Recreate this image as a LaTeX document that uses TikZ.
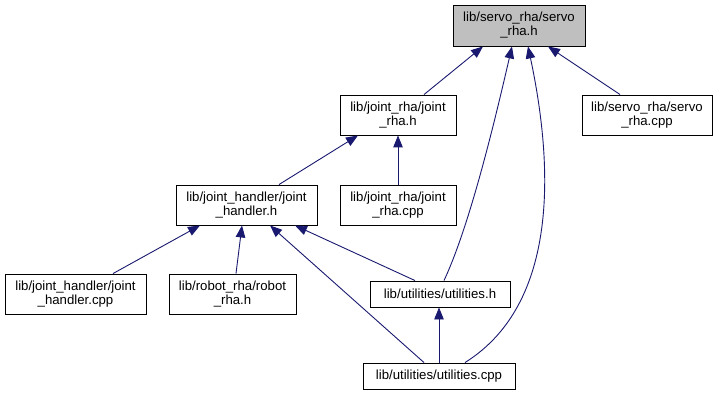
\documentclass[tikz,border=0pt]{standalone}
\usepackage{fontspec}
\setmainfont{Liberation Sans}
\usetikzlibrary{arrows.meta}
\definecolor{edgeblue}{HTML}{191970}
\definecolor{focusgray}{HTML}{BFBFBF}
\begin{document}
\begin{tikzpicture}[x=1pt,y=-1pt,
  file/.style={draw=black, line width=0.9pt, fill=white, inner sep=0pt,
    align=center, font=\fontsize{13.2}{14}\selectfont},
  focus/.style={file, fill=focusgray},
  incl/.style={draw=edgeblue, line width=0.9pt,
    {Triangle[length=12pt,width=9.5pt]}-, fill=none}]
\useasboundingbox (0,0) rectangle (720,395);

% files
\node[focus, minimum width=132pt, minimum height=41pt] (servoh) at (519,25.5)
  {lib/servo\_rha/servo\\\_rha.h};
\node[file, minimum width=130pt, minimum height=40pt] (servocpp) at (647,115)
  {lib/servo\_rha/servo\\\_rha.cpp};
\node[file, minimum width=116pt, minimum height=40pt] (jointh) at (398,115)
  {lib/joint\_rha/joint\\\_rha.h};
\node[file, minimum width=141pt, minimum height=40pt] (jhh) at (246.5,205)
  {lib/joint\_handler/joint\\\_handler.h};
\node[file, minimum width=116pt, minimum height=40pt] (jointcpp) at (398,205)
  {lib/joint\_rha/joint\\\_rha.cpp};
\node[file, minimum width=141pt, minimum height=40pt] (jhcpp) at (75.5,294)
  {lib/joint\_handler/joint\\\_handler.cpp};
\node[file, minimum width=127pt, minimum height=40pt] (roboth) at (232.5,294)
  {lib/robot\_rha/robot\\\_rha.h};
\node[file, minimum width=140pt, minimum height=26pt] (utilh) at (440,294)
  {lib/utilities/utilities.h};
\node[file, minimum width=152pt, minimum height=26pt] (utilcpp) at (439,376)
  {lib/utilities/utilities.cpp};

% include relations (arrow points at the included file)
\draw[incl] ([xshift=-36pt]servoh.south) -- ([xshift=26pt]jointh.north);
\draw[incl] ([xshift=29pt]servoh.south) -- ([xshift=-27pt]servocpp.north);
\draw[incl] ([xshift=-7pt]servoh.south) .. controls (495,120) and (470,225) .. ([xshift=4pt]utilh.north);
\draw[incl] ([xshift=9pt]servoh.south) .. controls (550,150) and (565,300) .. ([xshift=26pt]utilcpp.north);
\draw[incl] ([xshift=-40pt]jointh.south) -- ([xshift=32.5pt]jhh.north);
\draw[incl] (jointh.south) -- (jointcpp.north);
\draw[incl] ([xshift=-46.5pt]jhh.south) -- ([xshift=37.5pt]jhcpp.north);
\draw[incl] ([xshift=-4.5pt]jhh.south) -- ([xshift=3.5pt]roboth.north);
\draw[incl] ([xshift=23.5pt]jhh.south) -- ([xshift=-15pt]utilcpp.north);
\draw[incl] ([xshift=48.5pt]jhh.south) -- ([xshift=-25pt]utilh.north);
\draw[incl] ([xshift=-1pt]utilh.south) -- (utilcpp.north);
\end{tikzpicture}
\end{document}
